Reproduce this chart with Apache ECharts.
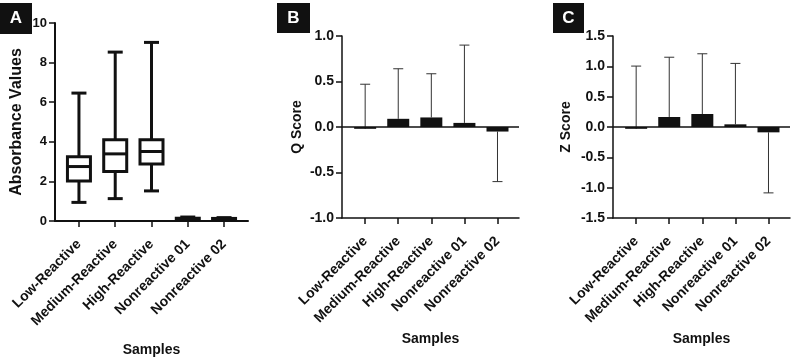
<!DOCTYPE html>
<html>
<head>
<meta charset="utf-8">
<script src="https://cdn.jsdelivr.net/npm/echarts@6/dist/echarts.min.js"></script>
<style>
  html, body { margin: 0; padding: 0; background: #fff; }
  #chart { width: 793px; height: 358px; }
</style>
</head>
<body>
<div id="chart"></div>
<script>
const categories = ['Low-Reactive', 'Medium-Reactive', 'High-Reactive', 'Nonreactive 01', 'Nonreactive 02']

// panel A: absorbance box plots
const absMin = [0.94, 1.13, 1.52, 0.04, 0.04]
const absQ1 = [2.02, 2.50, 2.88, 0.08, 0.08]
const absMedian = [2.75, 3.39, 3.51, 0.11, 0.11]
const absQ3 = [3.25, 4.10, 4.10, 0.14, 0.13]
const absMax = [6.46, 8.53, 9.02, 0.20, 0.17]

// panel B: Q score mean and error bar tip
const qMean = [-0.02, 0.09, 0.105, 0.045, -0.05]
const qErrTip = [0.47, 0.64, 0.585, 0.90, -0.60]

// panel C: Z score mean and error bar tip
const zMean = [-0.03, 0.165, 0.214, 0.044, -0.088]
const zErrTip = [1.004, 1.15, 1.207, 1.048, -1.086]

const catIdx = categories.map((c, i) => i)

const FONT = 'Arial, "Liberation Sans", sans-serif'

const boxData = categories.map((c, i) => [i, absMin[i], absQ1[i], absMedian[i], absQ3[i], absMax[i]])
const qBars = qMean.map((v, i) => [i, v])
const zBars = zMean.map((v, i) => [i, v])
const qErr = qMean.map((v, i) => [i, v, qErrTip[i]])
const zErr = zMean.map((v, i) => [i, v, zErrTip[i]])

const renderBox = (params, api) => {
  const x = api.value(0)
  const pMin = api.coord([x, api.value(1)])
  const pQ1 = api.coord([x, api.value(2)])
  const pMed = api.coord([x, api.value(3)])
  const pQ3 = api.coord([x, api.value(4)])
  const pMax = api.coord([x, api.value(5)])
  const cx = pMin[0]
  const hb = 11.5
  const hc = 7.5
  const st = {stroke: '#111', lineWidth: 3, fill: null}
  return {
    type: 'group',
    children: [
      {type: 'line', shape: {x1: cx, y1: pMax[1], x2: cx, y2: pQ3[1]}, style: st},
      {type: 'line', shape: {x1: cx, y1: pQ1[1], x2: cx, y2: pMin[1]}, style: st},
      {type: 'line', shape: {x1: cx - hc, y1: pMax[1], x2: cx + hc, y2: pMax[1]}, style: st},
      {type: 'line', shape: {x1: cx - hc, y1: pMin[1], x2: cx + hc, y2: pMin[1]}, style: st},
      {type: 'rect', shape: {x: cx - hb, y: pQ3[1], width: hb * 2, height: pQ1[1] - pQ3[1]},
        style: {stroke: '#111', lineWidth: 3, fill: '#fff'}},
      {type: 'line', shape: {x1: cx - hb, y1: pMed[1], x2: cx + hb, y2: pMed[1]}, style: st},
    ],
  }
}

const renderErr = (params, api) => {
  const x = api.value(0)
  const p0 = api.coord([x, api.value(1)])
  const p1 = api.coord([x, api.value(2)])
  const st = {stroke: '#333', lineWidth: 1}
  return {
    type: 'group',
    children: [
      {type: 'line', shape: {x1: p0[0], y1: p0[1], x2: p1[0], y2: p1[1]}, style: st},
      {type: 'line', shape: {x1: p1[0] - 5, y1: p1[1], x2: p1[0] + 5, y2: p1[1]}, style: st},
    ],
  }
}

const xAxisBase = (gridIndex, min, max, gap) => ({
  type: 'value',
  gridIndex,
  min,
  max,
  splitLine: {show: false},
  axisLine: {onZero: false, lineStyle: {color: '#111', width: gridIndex === 0 ? 2 : 1.5}},
  axisTick: {customValues: catIdx, length: 6, lineStyle: {color: '#111', width: 1.5}},
  axisLabel: {
    customValues: catIdx,
    rotate: 45,
    margin: 21,
    color: '#111',
    fontFamily: FONT,
    fontWeight: 'bold',
    fontSize: 14,
    formatter: v => categories[Math.round(v)],
  },
  name: 'Samples',
  nameLocation: 'middle',
  nameGap: gap,
  nameTextStyle: {color: '#111', fontFamily: FONT, fontWeight: 'bold', fontSize: 14},
})

const yAxisBase = (gridIndex, min, max, interval, name, gap, digits, nameSize, tickSize) => ({
  type: 'value',
  gridIndex,
  min,
  max,
  interval,
  splitLine: {show: false},
  axisLine: {show: true, onZero: false, lineStyle: {color: '#111', width: gridIndex === 0 ? 2 : 1.5}},
  axisTick: {show: true, length: 6, lineStyle: {color: '#111', width: 1.5}},
  axisLabel: {
    color: '#111',
    fontFamily: FONT,
    fontWeight: 'bold',
    fontSize: tickSize,
    margin: 8,
    formatter: v => v.toFixed(digits),
  },
  name,
  nameLocation: 'middle',
  nameGap: gap,
  nameTextStyle: {color: '#111', fontFamily: FONT, fontWeight: 'bold', fontSize: nameSize},
})

const zeroLine = {
  silent: true,
  symbol: 'none',
  label: {show: false},
  lineStyle: {color: '#111', width: 1.5, type: 'solid'},
  data: [{yAxis: 0}],
}

const letterBox = (x, y, w, h, letter) => ({
  type: 'group',
  left: x,
  top: y,
  children: [
    {type: 'rect', shape: {x: 0, y: 0, width: w, height: h}, style: {fill: '#111'}},
    {type: 'text', x: w / 2, y: h / 2,
      style: {text: letter, fill: '#fff', font: 'bold 17px Arial, sans-serif', align: 'center', verticalAlign: 'middle'}},
  ],
})

const option = {
  animation: false,
  backgroundColor: '#fff',
  grid: [
    {left: 55, top: 23, width: 193, height: 198, outerBoundsMode: 'none'},
    {left: 342, top: 36, width: 177, height: 182, outerBoundsMode: 'none'},
    {left: 613, top: 36, width: 177, height: 182, outerBoundsMode: 'none'},
  ],
  xAxis: [
    xAxisBase(0, -0.66, 4.66, 122),
    xAxisBase(1, -0.7, 4.65, 113),
    xAxisBase(2, -0.7, 4.65, 113),
  ],
  yAxis: [
    yAxisBase(0, 0, 10, 2, 'Absorbance Values', 30, 0, 16, 13),
    yAxisBase(1, -1, 1, 0.5, 'Q Score', 38, 1, 14, 14),
    yAxisBase(2, -1.5, 1.5, 0.5, 'Z Score', 40, 1, 14, 14),
  ],
  graphic: [
    letterBox(0, 3, 32, 31, 'A'),
    letterBox(277, 3, 33, 30, 'B'),
    letterBox(553, 3, 31, 30, 'C'),
  ],
  series: [
    {
      type: 'custom',
      xAxisIndex: 0,
      yAxisIndex: 0,
      renderItem: renderBox,
      encode: {x: 0, y: [1, 2, 3, 4, 5]},
      data: boxData,
    },
    {
      type: 'custom',
      xAxisIndex: 1,
      yAxisIndex: 1,
      renderItem: renderErr,
      encode: {x: 0, y: [1, 2]},
      data: qErr,
      z: 1,
    },
    {
      type: 'bar',
      xAxisIndex: 1,
      yAxisIndex: 1,
      barWidth: 22,
      itemStyle: {color: '#111'},
      data: qBars,
      markLine: zeroLine,
      z: 2,
    },
    {
      type: 'custom',
      xAxisIndex: 2,
      yAxisIndex: 2,
      renderItem: renderErr,
      encode: {x: 0, y: [1, 2]},
      data: zErr,
      z: 1,
    },
    {
      type: 'bar',
      xAxisIndex: 2,
      yAxisIndex: 2,
      barWidth: 22,
      itemStyle: {color: '#111'},
      data: zBars,
      markLine: zeroLine,
      z: 2,
    },
  ],
}

const chart = echarts.init(document.getElementById('chart'))
chart.setOption(option)
window.addEventListener('resize', () => chart.resize())
</script>
</body>
</html>
